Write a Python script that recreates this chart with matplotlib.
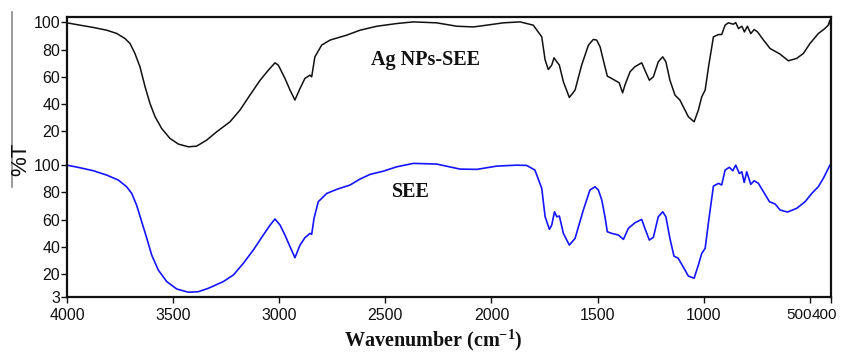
import matplotlib
matplotlib.use("Agg")
import matplotlib.pyplot as plt
import matplotlib.transforms as mtransforms
from matplotlib.lines import Line2D

# FTIR: Ag NPs-SEE (top, shifted up) and SEE (bottom)
wn_ag = [4000, 3939, 3876, 3813, 3766, 3727, 3703, 3680, 3656, 3632, 3609, 3585, 3554, 3515, 3475,
         3428, 3389, 3342, 3295, 3232, 3185, 3138, 3090, 3051, 3020, 3004, 2973, 2949, 2926, 2902,
         2879, 2855, 2847, 2832, 2800, 2761, 2683, 2619, 2540, 2446, 2368, 2258, 2163, 2085, 2022,
         1944, 1865, 1803, 1763, 1747, 1732, 1716, 1705, 1692, 1680, 1661, 1633, 1606, 1575, 1543,
         1520, 1504, 1488, 1469, 1454, 1426, 1398, 1382, 1371, 1347, 1324, 1292, 1277, 1256, 1237,
         1214, 1193, 1178, 1159, 1135, 1112, 1088, 1072, 1045, 1025, 1009, 993, 977, 954, 930,
         915, 899, 884, 860, 849, 836, 820, 808, 794, 778, 762, 746, 718, 687, 640,
         601, 562, 530, 499, 460, 429, 413, 405, 400]
t_ag = [99.7, 98, 96.3, 94.3, 91.9, 88.2, 84.5, 77.2, 67.3, 52.6, 40.4, 30.6, 22, 14.7, 10.5,
        8.5, 9, 13.4, 19.5, 26.9, 35.5, 46.5, 57.5, 64.9, 70.3, 68.5, 58.8, 50.2, 42.9, 51.4,
        58.8, 61.2, 60, 74.7, 83.3, 87, 90.6, 94.3, 97.2, 99.2, 100.4, 99.7, 97.2, 96.7, 98,
        99.7, 100.4, 98, 89.4, 72.3, 65.4, 68.6, 74, 71, 68.6, 56.3, 44.8, 50.2, 68.6, 83.3,
        87.5, 87, 82, 69.8, 60.5, 58.1, 55.6, 48.2, 53.9, 63.7, 67.4, 70.3, 64.9, 57.5, 60,
        71, 74.7, 71, 57.5, 46.5, 42.9, 35.5, 30.6, 26.9, 35.5, 45.3, 50.2, 67.4, 89.4, 91.1,
        91.1, 98, 99.7, 98.7, 99.9, 95.5, 97.2, 93, 97.2, 91.8, 94.8, 93, 87, 80.8, 76.7,
        71.8, 73.5, 77.2, 84.5, 91.8, 95.5, 98, 101.7, 95.5]

wn_see = [4000, 3939, 3876, 3813, 3758, 3719, 3695, 3672, 3648, 3624, 3601, 3570, 3530, 3483, 3428,
          3381, 3334, 3264, 3216, 3169, 3122, 3075, 3043, 3020, 2996, 2973, 2949, 2926, 2902, 2879,
          2855, 2847, 2836, 2816, 2776, 2729, 2666, 2619, 2572, 2509, 2446, 2368, 2258, 2148, 2069,
          1975, 1881, 1834, 1795, 1763, 1747, 1727, 1716, 1703, 1692, 1680, 1661, 1633, 1606, 1567,
          1536, 1512, 1496, 1480, 1465, 1454, 1433, 1402, 1378, 1355, 1324, 1292, 1277, 1256, 1237,
          1214, 1193, 1178, 1159, 1140, 1120, 1097, 1072, 1045, 1025, 1009, 993, 977, 954, 930,
          915, 899, 879, 863, 849, 832, 820, 809, 797, 778, 762, 742, 718, 690, 663,
          640, 605, 562, 522, 490, 460, 436, 405]
t_see = [100, 98.1, 95.9, 92.7, 89, 84.1, 79.2, 70.6, 58.4, 46.2, 33.9, 22.9, 14.3, 8.9, 6.5,
         6.9, 9.4, 14.3, 19.2, 27.8, 37.6, 48.6, 55.9, 60.4, 55.9, 48.6, 40, 31.9, 41.2, 46.6,
         49.8, 49.1, 60.9, 73.1, 79.2, 82.2, 85.4, 89.8, 93.2, 95.6, 98.8, 101.3, 100.8, 97.1, 96.9,
         99.3, 100, 99.8, 96.4, 82.9, 62, 52.8, 55.9, 65.7, 62, 62.6, 49.8, 41.2, 46.1, 67,
         81.7, 84.1, 81.7, 74.3, 62, 51, 49.8, 48.6, 45.4, 53.5, 57.6, 60.1, 53.5, 44.9, 46.9,
         62, 65.7, 62, 46.1, 33.1, 31.5, 25.3, 18.4, 16.8, 26.5, 35.1, 38.8, 58.4, 84.6, 86.6,
         85.4, 96.4, 98.4, 95.9, 100, 93.9, 95.1, 87.3, 95.1, 85.9, 88.5, 86.6, 80.4, 73.1, 71.4,
         67, 65.5, 68.2, 73.1, 79.3, 84.1, 90.3, 100]

offset = 105  # vertical shift of the top spectrum
x_ticks = [4000, 3500, 3000, 2500, 2000, 1500, 1000, 500, 400]
x_labels = ["4000", "3500", "3000", "2500", "2000", "1500", "1000", "500", "400"]
y_ticks_see = [3, 20, 40, 60, 80, 100]
y_ticks_ag = [20, 40, 60, 80, 100]

plt.rcParams["mathtext.fontset"] = "custom"
plt.rcParams["mathtext.rm"] = "Liberation Serif:bold"
plt.rcParams["mathtext.it"] = "Liberation Serif:bold"

fig = plt.figure(figsize=(8.45, 3.6), dpi=100)
ax = fig.add_axes([67 / 845, 63 / 360, 764 / 845, 280 / 360])

ax.plot(wn_ag, [v + offset for v in t_ag], color="#111111", lw=1.1)
ax.plot(wn_see, t_see, color="#1515ff", lw=1.2)

ax.set_xlim(4000, 400)
ax.set_ylim(3, 209)

yt = y_ticks_see + [v + offset for v in y_ticks_ag]
ax.set_yticks(yt)
ax.set_yticklabels([str(v) for v in y_ticks_see + y_ticks_ag],
                   fontfamily="Liberation Sans", fontsize=11.5)
ax.set_xticks(x_ticks)
ax.set_xticklabels(x_labels, fontfamily="Liberation Sans", fontsize=11.5)
ax.tick_params(direction="out", length=4, width=1, colors="#111111")
ax.tick_params(axis="y", pad=1)
ax.tick_params(axis="x", pad=4)

# the "500" and "400" labels sit right next to each other in the original
lab500, lab400 = ax.get_xticklabels()[-2:]
for lab, dx in ((lab500, 2), (lab400, 6)):
    lab.set_fontsize(11)
    lab.set_ha("right")
    lab.set_transform(lab.get_transform() +
                      mtransforms.ScaledTranslation(dx / 100, 0, fig.dpi_scale_trans))

for s in ax.spines.values():
    s.set_linewidth(1.6)
    s.set_color("#111111")

ax.text(2313, 177, "Ag NPs-SEE", family="Liberation Serif", weight="bold",
        fontsize=14.5, ha="center", va="center", color="#111111")
ax.text(2379, 80, "SEE", family="Liberation Serif", weight="bold",
        fontsize=14.5, ha="center", va="center", color="#111111")

ax.set_xlabel(r"Wavenumber (cm$^{\mathrm{-1}}$)", family="Liberation Serif",
              weight="bold", fontsize=14.5, color="#111111")
ax.xaxis.set_label_coords((433 - 67) / 764, -0.11)

fig.text(21 / 845, 1 - 159 / 360, "%T", rotation=90, fontsize=16,
         family="Liberation Sans", ha="center", va="center", color="#111111")
fig.add_artist(Line2D([12 / 845, 12 / 845], [1 - 12 / 360, 1 - 187 / 360],
                      color="#8a8a8a", lw=1.2))

fig.savefig("out.png", dpi=100)
